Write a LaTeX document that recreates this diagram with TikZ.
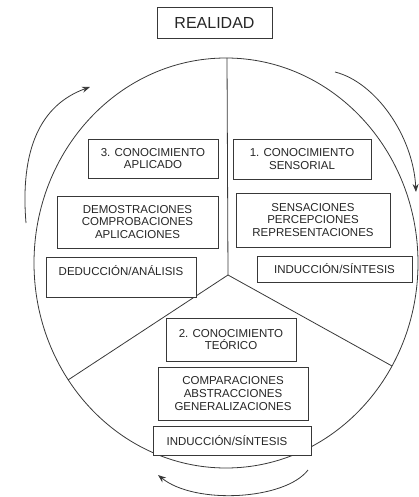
\documentclass[tikz,border=0pt]{standalone}
\usepackage{fontspec}
\setmainfont{Liberation Sans}
\usetikzlibrary{arrows.meta}
\begin{document}
\begin{tikzpicture}[x=1pt,y=-1pt,
  ln/.style={draw=black!78, line width=0.8pt},
  box/.style={ln, rectangle, inner sep=0pt, align=center, text=black!85,
    font=\fontsize{11.5}{12.7}\selectfont},
  arr/.style={ln, -{Stealth[length=8pt,width=6pt]}}]
\useasboundingbox (0,0) rectangle (419,497);
% circle and spokes
\draw[ln] (226,263) ellipse [x radius=192, y radius=205];
\coordinate (hub) at (228,275);
\coordinate (top) at (227,58);
\coordinate (lft) at (68,380);
\coordinate (rgt) at (392,366);
\draw[ln] (top) -- (hub);
\draw[ln] (hub) -- (lft);
\draw[ln] (hub) -- (rgt);
% boxes
\node[box, minimum width=115pt, minimum height=31pt, font=\fontsize{16}{18}\selectfont] (real) at (214.5,22.5) {REALIDAD};
\node[box, fill=white, minimum width=130pt, minimum height=39pt] (c3) at (153,158.5) {3. CONOCIMIENTO\\APLICADO};
\node[box, fill=white, minimum width=138pt, minimum height=40pt] (c1) at (302,159) {1. CONOCIMIENTO\\SENSORIAL};
\node[box, minimum width=161pt, minimum height=52pt] (demo) at (137.5,222) {DEMOSTRACIONES\\COMPROBACIONES\\APLICACIONES};
\node[box, minimum width=154pt, minimum height=54pt] (sens) at (313,220) {SENSACIONES\\PERCEPCIONES\\REPRESENTACIONES};
\node[box, fill=white, minimum width=150pt, minimum height=40pt] (ded) at (121,277) {DEDUCCIÓN/ANÁLISIS\\~};
\node[box, minimum width=155pt, minimum height=26pt] (ind1) at (334.5,269) {INDUCCIÓN/SÍNTESIS};
\node[box, minimum width=130pt, minimum height=43pt] (c2) at (231,339.5) {2. CONOCIMIENTO\\TEÓRICO};
\node[box, minimum width=150pt, minimum height=53pt] (comp) at (233,393.5) {COMPARACIONES\\ABSTRACCIONES\\GENERALIZACIONES};
\node[box, fill=white, minimum width=158pt, minimum height=29pt] (ind2) at (232,440.5) {\hspace*{-10pt}INDUCCIÓN/SÍNTESIS};
% cycle arrows
\coordinate (a1s) at (26,223);
\coordinate (a1e) at (90,87);
\coordinate (a2s) at (335,72);
\coordinate (a2e) at (416,192);
\coordinate (a3s) at (308,470);
\coordinate (a3e) at (158,475);
\draw[arr] (a1s) .. controls (20,150) and (40,105) .. (a1e);
\draw[arr] (a2s) .. controls (375,82) and (413,135) .. (a2e);
\draw[arr] (a3s) .. controls (285,500) and (195,505) .. (a3e);
\end{tikzpicture}
\end{document}
